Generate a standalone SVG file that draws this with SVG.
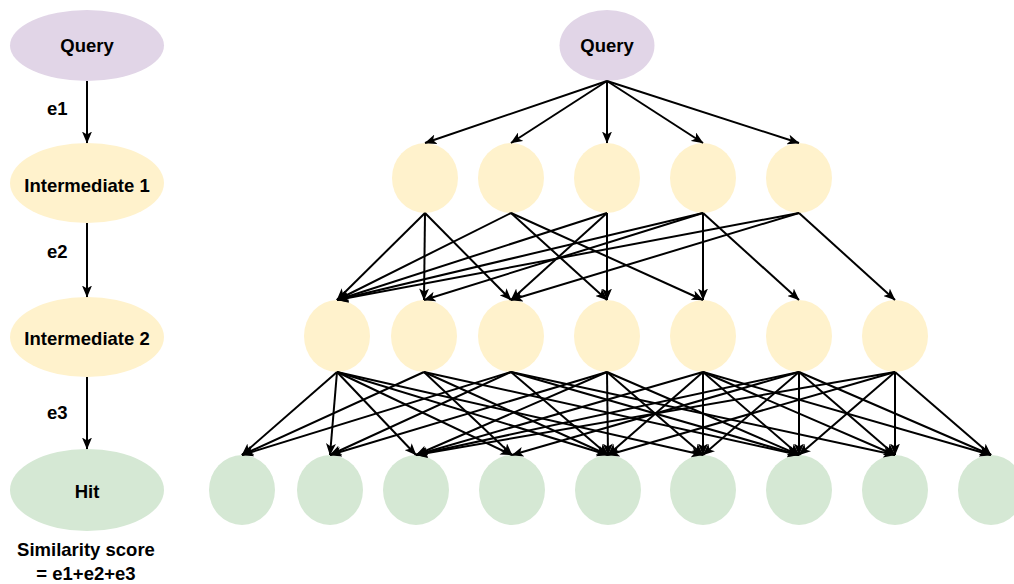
<svg xmlns="http://www.w3.org/2000/svg" width="1014" height="584" viewBox="0 0 1014 584">
<style>
.t{font-family:"Liberation Sans",Arial,sans-serif;font-size:18.5px;font-weight:bold;fill:#000}
.c{text-anchor:middle}
.q{fill:#e1d5e7}
.y{fill:#fff2cc}
.g{fill:#d5e8d4}
#edges line{stroke:#000;stroke-width:2;marker-end:url(#ah)}
</style>
<defs>
<marker id="ah" viewBox="0 0 12 10" refX="11.5" refY="5" markerWidth="12" markerHeight="10" markerUnits="userSpaceOnUse" orient="auto">
<path d="M0,0 L12,5 L0,10 L3,5 Z" fill="#000"/>
</marker>
</defs>
<rect width="1014" height="584" fill="#fff"/>

<g id="legend-query"><ellipse class="q" cx="87" cy="45.5" rx="77" ry="35.5"/><text class="t c" x="87" y="52">Query</text></g>
<g id="legend-int1"><ellipse class="y" cx="87" cy="183" rx="77" ry="40"/><text class="t c" x="87" y="192">Intermediate 1</text></g>
<g id="legend-int2"><ellipse class="y" cx="87" cy="337" rx="77" ry="40"/><text class="t c" x="87" y="345">Intermediate 2</text></g>
<g id="legend-hit"><ellipse class="g" cx="87" cy="490" rx="77" ry="41"/><text class="t c" x="87" y="498">Hit</text></g>
<g id="legend-labels">
<text class="t" x="47" y="115">e1</text>
<text class="t" x="47" y="258">e2</text>
<text class="t" x="47" y="419">e3</text>
<text class="t c" x="86" y="556">Similarity score</text>
<text class="t c" x="86" y="580">= e1+e2+e3</text>
</g>

<g id="query"><ellipse class="q" cx="607" cy="45.5" rx="47.5" ry="35.5"/><text class="t c" x="607" y="52">Query</text></g>

<g id="l1-1"><ellipse class="y" cx="425" cy="178" rx="33" ry="35"/></g>
<g id="l1-2"><ellipse class="y" cx="511" cy="178" rx="33" ry="35"/></g>
<g id="l1-3"><ellipse class="y" cx="607" cy="178" rx="33" ry="35"/></g>
<g id="l1-4"><ellipse class="y" cx="703" cy="178" rx="33" ry="35"/></g>
<g id="l1-5"><ellipse class="y" cx="799" cy="178" rx="33" ry="35"/></g>

<g id="l2-1"><ellipse class="y" cx="337" cy="336" rx="33" ry="36"/></g>
<g id="l2-2"><ellipse class="y" cx="424" cy="336" rx="33" ry="36"/></g>
<g id="l2-3"><ellipse class="y" cx="511" cy="336" rx="33" ry="36"/></g>
<g id="l2-4"><ellipse class="y" cx="607" cy="336" rx="33" ry="36"/></g>
<g id="l2-5"><ellipse class="y" cx="703" cy="336" rx="33" ry="36"/></g>
<g id="l2-6"><ellipse class="y" cx="799" cy="336" rx="33" ry="36"/></g>
<g id="l2-7"><ellipse class="y" cx="895" cy="336" rx="33" ry="36"/></g>

<g id="h-1"><ellipse class="g" cx="242" cy="490" rx="33" ry="35"/></g>
<g id="h-2"><ellipse class="g" cx="330" cy="490" rx="33" ry="35"/></g>
<g id="h-3"><ellipse class="g" cx="416" cy="490" rx="33" ry="35"/></g>
<g id="h-4"><ellipse class="g" cx="512" cy="490" rx="33" ry="35"/></g>
<g id="h-5"><ellipse class="g" cx="608" cy="490" rx="33" ry="35"/></g>
<g id="h-6"><ellipse class="g" cx="703" cy="490" rx="33" ry="35"/></g>
<g id="h-7"><ellipse class="g" cx="799" cy="490" rx="33" ry="35"/></g>
<g id="h-8"><ellipse class="g" cx="895" cy="490" rx="33" ry="35"/></g>
<g id="h-9"><ellipse class="g" cx="991" cy="490" rx="33" ry="35"/></g>

<g id="edges">
<line x1="87" y1="81" x2="87" y2="143"/>
<line x1="87" y1="223" x2="87" y2="297"/>
<line x1="87" y1="377" x2="87" y2="449"/>

<line x1="607" y1="81" x2="425" y2="143"/>
<line x1="607" y1="81" x2="511" y2="143"/>
<line x1="607" y1="81" x2="607" y2="143"/>
<line x1="607" y1="81" x2="703" y2="143"/>
<line x1="607" y1="81" x2="799" y2="143"/>

<line x1="425" y1="213" x2="337" y2="300"/>
<line x1="425" y1="213" x2="424" y2="300"/>
<line x1="425" y1="213" x2="511" y2="300"/>
<line x1="511" y1="213" x2="337" y2="300"/>
<line x1="511" y1="213" x2="607" y2="300"/>
<line x1="511" y1="213" x2="703" y2="300"/>
<line x1="607" y1="213" x2="337" y2="300"/>
<line x1="607" y1="213" x2="511" y2="300"/>
<line x1="607" y1="213" x2="607" y2="300"/>
<line x1="703" y1="213" x2="337" y2="300"/>
<line x1="703" y1="213" x2="424" y2="300"/>
<line x1="703" y1="213" x2="703" y2="300"/>
<line x1="703" y1="213" x2="799" y2="300"/>
<line x1="799" y1="213" x2="337" y2="300"/>
<line x1="799" y1="213" x2="511" y2="300"/>
<line x1="799" y1="213" x2="895" y2="300"/>

<line x1="337" y1="372" x2="242" y2="455"/>
<line x1="337" y1="372" x2="330" y2="455"/>
<line x1="337" y1="372" x2="416" y2="455"/>
<line x1="337" y1="372" x2="512" y2="455"/>
<line x1="337" y1="372" x2="608" y2="455"/>
<line x1="337" y1="372" x2="703" y2="455"/>
<line x1="424" y1="372" x2="242" y2="455"/>
<line x1="424" y1="372" x2="512" y2="455"/>
<line x1="424" y1="372" x2="608" y2="455"/>
<line x1="424" y1="372" x2="799" y2="455"/>
<line x1="511" y1="372" x2="242" y2="455"/>
<line x1="511" y1="372" x2="330" y2="455"/>
<line x1="511" y1="372" x2="608" y2="455"/>
<line x1="511" y1="372" x2="799" y2="455"/>
<line x1="511" y1="372" x2="895" y2="455"/>
<line x1="607" y1="372" x2="330" y2="455"/>
<line x1="607" y1="372" x2="416" y2="455"/>
<line x1="607" y1="372" x2="608" y2="455"/>
<line x1="607" y1="372" x2="703" y2="455"/>
<line x1="607" y1="372" x2="799" y2="455"/>
<line x1="703" y1="372" x2="416" y2="455"/>
<line x1="703" y1="372" x2="608" y2="455"/>
<line x1="703" y1="372" x2="703" y2="455"/>
<line x1="703" y1="372" x2="799" y2="455"/>
<line x1="703" y1="372" x2="895" y2="455"/>
<line x1="703" y1="372" x2="991" y2="455"/>
<line x1="799" y1="372" x2="416" y2="455"/>
<line x1="799" y1="372" x2="512" y2="455"/>
<line x1="799" y1="372" x2="703" y2="455"/>
<line x1="799" y1="372" x2="799" y2="455"/>
<line x1="799" y1="372" x2="895" y2="455"/>
<line x1="799" y1="372" x2="991" y2="455"/>
<line x1="895" y1="372" x2="416" y2="455"/>
<line x1="895" y1="372" x2="608" y2="455"/>
<line x1="895" y1="372" x2="799" y2="455"/>
<line x1="895" y1="372" x2="895" y2="455"/>
<line x1="895" y1="372" x2="991" y2="455"/>
</g>
</svg>
